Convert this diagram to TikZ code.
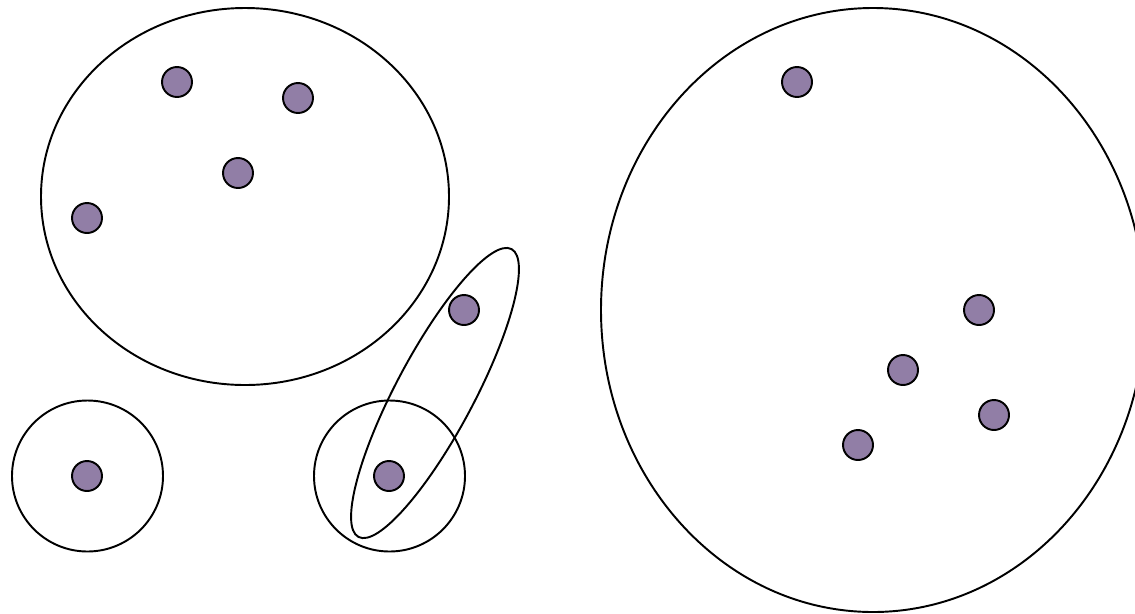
\documentclass[tikz,border=0pt]{standalone}
\usepackage{xcolor}
\usepackage{tikz}
\definecolor{dotpurple}{RGB}{145,126,166}
\tikzset{
  pt/.style={circle,draw,fill=dotpurple,line width=1.1pt,minimum size=0.6cm,inner sep=0pt},
  blob/.style={line width=1.1pt}
}

\begin{document}
\begin{tikzpicture}[x=0.02cm,y=-0.02cm]
    \useasboundingbox (0,0) rectangle (1135,613);
    \clip (0,0) rectangle (1135,613);

    \draw[blob] (245,196.5) ellipse [x radius=204, y radius=188.5];
    \draw[blob] (87.5,476) circle [radius=75.5];
    \draw[blob] (389.5,476) circle [radius=75.5];
    \draw[blob,rotate around={62:(435,393)}] (435,393) ellipse [x radius=163, y radius=39];
    \draw[blob] (873,310) ellipse [x radius=272, y radius=302];

    \node[pt] (p1) at (177,82) {};
    \node[pt] (p2) at (298,98) {};
    \node[pt] (p3) at (238,173) {};
    \node[pt] (p4) at (87,218) {};
    \node[pt] (p5) at (464,310) {};
    \node[pt] (p6) at (87,476) {};
    \node[pt] (p7) at (389,476) {};
    \node[pt] (p8) at (797,82) {};
    \node[pt] (p9) at (979,310) {};
    \node[pt] (p10) at (903,370) {};
    \node[pt] (p11) at (994,415) {};
    \node[pt] (p12) at (858,445) {};
\end{tikzpicture}
\end{document}
